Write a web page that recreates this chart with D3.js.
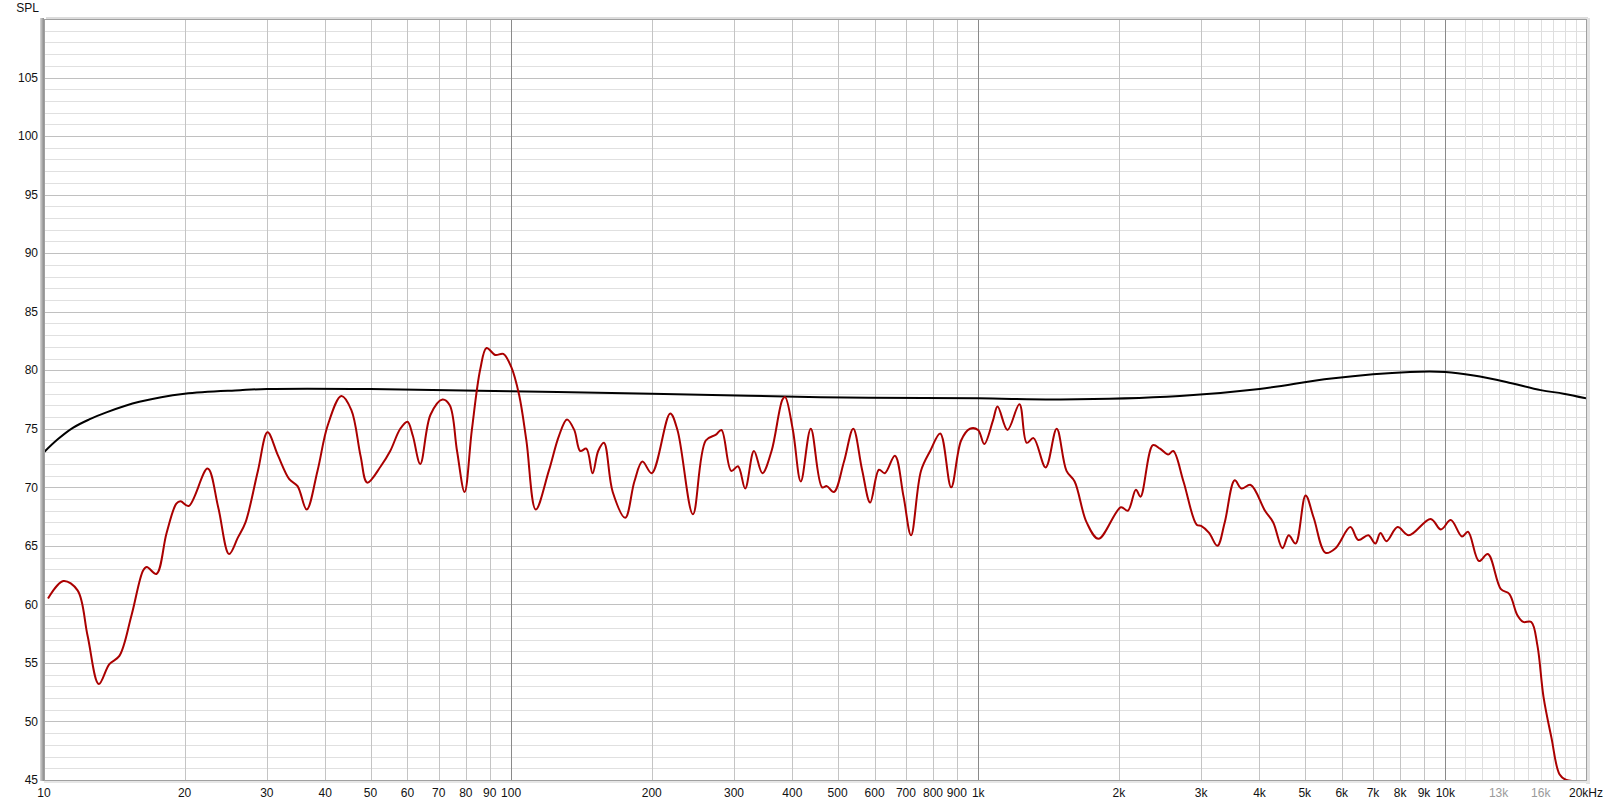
<!DOCTYPE html>
<html>
<head>
<meta charset="utf-8">
<script src="https://cdn.jsdelivr.net/npm/d3@7"></script>
<style>
  body { margin: 0; background: #fff; }
  text { font-family: "Liberation Sans", Arial, sans-serif; font-size: 12px; }
</style>
</head>
<body>
<div id="container"></div>
<script>
// Measured response (red)
const redFreq = [10.2, 11.0, 11.8, 12.4, 13.1, 13.8, 14.5, 15.4, 16.3, 16.6, 17.4, 18.3, 19.2, 19.6, 20.4, 22.4, 23.6, 24.9, 26.0, 27.0, 28.7, 30.1, 31.7, 33.5, 34.9, 36.5, 38.5, 40.5, 43.3, 45.5, 47.6, 49.2, 52.6, 55.1, 57.9, 60.0, 61.6, 63.9, 67.2, 71.3, 73.9, 76.6, 79.5, 82.4, 85.9, 88.6, 92.5, 96.2, 100, 104, 107.8, 112.9, 120.4, 126.6, 131.7, 136.5, 140.6, 144.9, 149.4, 153.6, 158, 165, 175.5, 183.6, 191, 200, 219, 227, 245, 261, 274.5, 282, 296, 306, 317, 331, 345, 361, 381, 386, 401, 417, 438, 463, 474, 491, 516, 540, 564, 587, 613, 631, 663, 692, 718, 754, 789, 829, 875, 919, 960, 999, 1030, 1075, 1100, 1155, 1225, 1270, 1313, 1394, 1472, 1545, 1608, 1706, 1809, 2020, 2090, 2175, 2225, 2365, 2450, 2550, 2615, 2750, 2935, 3000, 3120, 3250, 3370, 3540, 3660, 3830, 4110, 4280, 4480, 4620, 4780, 5020, 5225, 5540, 5820, 6260, 6510, 6840, 7080, 7260, 7480, 7900, 8350, 9300, 9780, 10270, 10850, 11180, 11800, 12330, 13150, 13700, 14250, 14680, 15270, 15740, 16220, 16870, 17550, 18150, 19350, 20000];
const redDb = [60.5, 62.0, 61.2, 57.3, 53.2, 54.9, 55.6, 59.1, 62.9, 63.2, 62.6, 66.1, 68.6, 68.8, 68.4, 71.6, 68.3, 64.3, 65.7, 67.0, 71.4, 74.7, 72.7, 70.7, 70.1, 68.1, 71.4, 75.3, 77.8, 76.6, 72.7, 70.4, 71.8, 73.1, 75.0, 75.6, 74.4, 72.0, 76.2, 77.5, 77.0, 73.1, 69.6, 74.9, 80.1, 81.9, 81.3, 81.4, 80.3, 77.9, 74.0, 68.1, 71.4, 74.4, 75.8, 74.9, 73.1, 73.3, 71.2, 73.1, 73.8, 69.6, 67.4, 70.5, 72.2, 71.2, 76.3, 74.9, 67.7, 74.0, 74.5, 74.9, 71.4, 71.8, 69.9, 73.1, 71.2, 73.1, 77.5, 77.7, 74.9, 70.5, 75.0, 70.0, 70.1, 69.6, 72.2, 75.0, 71.5, 68.7, 71.5, 71.2, 72.7, 69.2, 65.9, 71.4, 73.1, 74.6, 70.0, 74.0, 75.0, 74.9, 73.7, 75.7, 76.9, 74.9, 77.1, 73.8, 74.2, 71.7, 75.0, 71.4, 70.5, 67.0, 65.6, 68.3, 68.0, 69.8, 69.2, 73.6, 73.3, 72.8, 73.1, 70.5, 66.8, 66.7, 66.1, 65.0, 67.0, 70.6, 69.9, 70.2, 68.0, 67.0, 64.8, 65.9, 65.2, 69.3, 67.4, 64.4, 64.8, 66.6, 65.5, 65.9, 65.2, 66.1, 65.4, 66.6, 65.9, 67.3, 66.4, 67.2, 65.8, 66.2, 63.7, 64.3, 61.3, 60.9, 59.1, 58.5, 58.5, 56.5, 52.1, 48.6, 45.5, 45.0, 44.9, 44.9];

// Target curve (black)
const blackFreq = [10, 10.7, 11.55, 12.5, 13.6, 16, 20, 26.3, 30, 50, 100, 200, 460, 1000, 1500, 2700, 4000, 5700, 8400, 10000, 11500, 13500, 16000, 17900, 20000];
const blackDb = [73.0, 74.1, 75.1, 75.8, 76.4, 77.3, 78.0, 78.3, 78.4, 78.4, 78.2, 78.0, 77.7, 77.6, 77.5, 77.8, 78.4, 79.3, 79.85, 79.85, 79.55, 79.0, 78.3, 78.0, 77.6];

// Axis ticks
const yTicks = [45, 50, 55, 60, 65, 70, 75, 80, 85, 90, 95, 100, 105];
const xTickValues = [10, 20, 30, 40, 50, 60, 70, 80, 90, 100, 200, 300, 400, 500, 600, 700, 800, 900, 1000, 2000, 3000, 4000, 5000, 6000, 7000, 8000, 9000, 10000, 13000, 16000, 20000];
const xTickLabels = ["10", "20", "30", "40", "50", "60", "70", "80", "90", "100", "200", "300", "400", "500", "600", "700", "800", "900", "1k", "2k", "3k", "4k", "5k", "6k", "7k", "8k", "9k", "10k", "13k", "16k", "20kHz"];

const width = 1608, height = 804;
const pLeft = 44, pRight = 1586, pTop = 19, pBottom = 780;

const x = d3.scaleLog().domain([10, 20000]).range([pLeft, pRight]);
const y = d3.scaleLinear().domain([45, 110]).range([pBottom, pTop]);

const svg = d3.create("svg")
  .attr("width", width)
  .attr("height", height);

const defs = svg.append("defs");
defs.append("clipPath").attr("id", "plot")
  .append("rect")
  .attr("x", pLeft).attr("y", pTop)
  .attr("width", pRight - pLeft).attr("height", pBottom - pTop);

const lg = defs.append("linearGradient").attr("id", "leftEdge");
lg.append("stop").attr("offset", "0%").attr("stop-color", "#d8d8d8");
lg.append("stop").attr("offset", "60%").attr("stop-color", "#a8a8a8");
lg.append("stop").attr("offset", "100%").attr("stop-color", "#8c8c8c");

// Grid: horizontal, 1 dB minor + 5 dB major
const grid = svg.append("g");
grid.selectAll(".hmin")
  .data(d3.range(46, 110))
  .enter().append("line")
  .attr("x1", pLeft).attr("x2", pRight)
  .attr("y1", d => Math.round(y(d)) + 0.5)
  .attr("y2", d => Math.round(y(d)) + 0.5)
  .attr("stroke", d => d % 5 === 0 ? "#c0c0c0" : "#e0e0e0");

// Grid: vertical
let vlines = [];
[10, 100, 1000].forEach(dec => {
  for (let m = 1; m <= 9; m++) vlines.push(dec * m);
});
for (let k = 10; k <= 19; k++) vlines.push(k * 1000);
vlines = vlines.filter(f => f > 10);

grid.selectAll(".v")
  .data(vlines)
  .enter().append("line")
  .attr("x1", d => Math.round(x(d)) + 0.5)
  .attr("x2", d => Math.round(x(d)) + 0.5)
  .attr("y1", pTop).attr("y2", pBottom)
  .attr("stroke", d => (d === 100 || d === 1000 || d === 10000) ? "#8a8a8a" : (d > 10000 ? "#dedede" : "#c4c4c4"));

// Curves
const line = d3.line()
  .x(d => x(d[0]))
  .y(d => y(d[1]))
  .curve(d3.curveCatmullRom.alpha(0.5));

const curves = svg.append("g").attr("clip-path", "url(#plot)");

curves.append("path")
  .datum(blackFreq.map((f, i) => [f, blackDb[i]]))
  .attr("d", line)
  .attr("fill", "none")
  .attr("stroke", "#000")
  .attr("stroke-width", 2);

curves.append("path")
  .datum(redFreq.map((f, i) => [f, redDb[i]]))
  .attr("d", line)
  .attr("fill", "none")
  .attr("stroke", "#aa0000")
  .attr("stroke-width", 2);

// Frame
svg.append("rect")
  .attr("x", pLeft + 2).attr("y", pTop - 2)
  .attr("width", pRight - pLeft).attr("height", 3)
  .attr("fill", "#dcdcdc");
svg.append("rect")
  .attr("x", pRight).attr("y", pTop - 1)
  .attr("width", 4).attr("height", pBottom - pTop + 5)
  .attr("fill", "#e2e2e2");
svg.append("rect")
  .attr("x", pLeft).attr("y", pBottom)
  .attr("width", pRight - pLeft + 4).attr("height", 3)
  .attr("fill", "#e6e6e6");
svg.append("rect")
  .attr("x", pLeft + 0.5).attr("y", pTop + 0.5)
  .attr("width", pRight - pLeft).attr("height", pBottom - pTop)
  .attr("fill", "none")
  .attr("stroke", "#a0a0a0");
svg.append("rect")
  .attr("x", pLeft - 4).attr("y", pTop - 1)
  .attr("width", 4).attr("height", pBottom - pTop + 2)
  .attr("fill", "url(#leftEdge)");

// Y axis labels
svg.append("g").selectAll("text")
  .data(yTicks)
  .enter().append("text")
  .attr("x", 38)
  .attr("y", d => y(d))
  .attr("dy", "0.35em")
  .attr("text-anchor", "end")
  .attr("fill", "#111")
  .text(d => d);

svg.append("text")
  .attr("x", 39).attr("y", 8)
  .attr("dy", "0.35em")
  .attr("text-anchor", "end")
  .attr("fill", "#111")
  .text("SPL");

// X axis labels
svg.append("g").selectAll("text")
  .data(xTickValues)
  .enter().append("text")
  .attr("x", d => x(d))
  .attr("y", 793)
  .attr("dy", "0.35em")
  .attr("text-anchor", "middle")
  .attr("fill", d => (d === 13000 || d === 16000) ? "#9a9a9a" : "#111")
  .text((d, i) => xTickLabels[i]);

container.append(svg.node());
</script>
</body>
</html>
